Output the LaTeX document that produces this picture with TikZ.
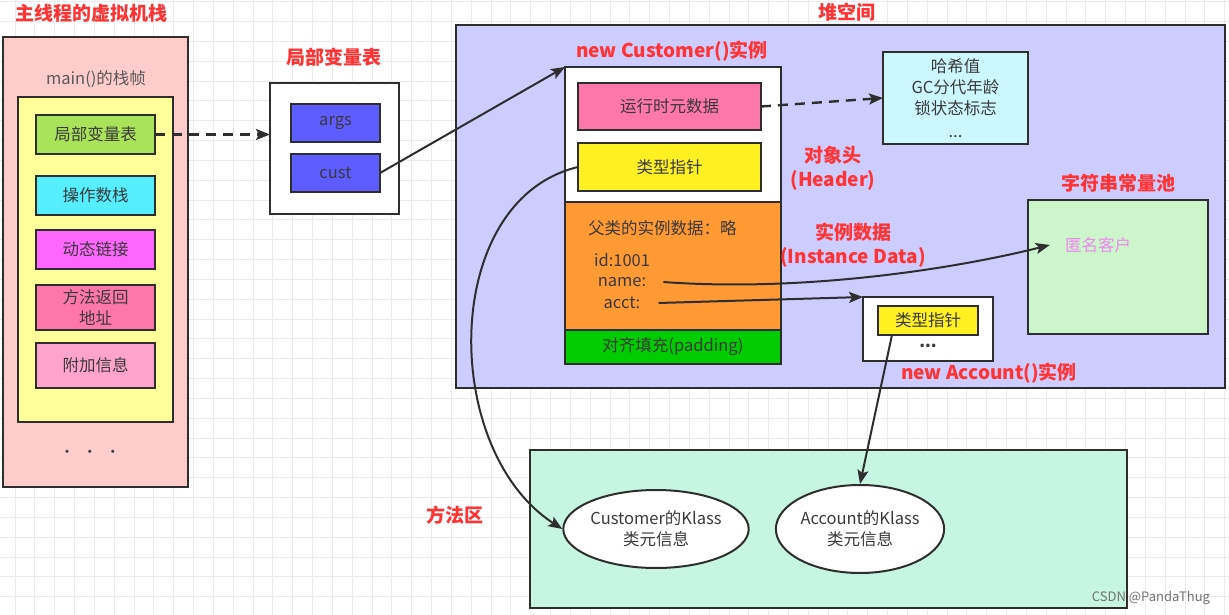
\documentclass[tikz,border=0pt]{standalone}
\usepackage{fontspec}
\setmainfont{Noto Sans CJK SC}
\usetikzlibrary{
    shapes.geometric,
    arrows.meta,
    positioning,
    calc
}
\definecolor{gridgray}{HTML}{EBEBEB}
\definecolor{linegray}{HTML}{2E2E2E}
\definecolor{textgray}{HTML}{3A3A3A}
\definecolor{titlered}{HTML}{FF3333}
\definecolor{stackpink}{HTML}{FFCCCC}
\definecolor{frameyellow}{HTML}{FFFF99}
\definecolor{lvtgreen}{HTML}{A8E35A}
\definecolor{opcyan}{HTML}{55EEFF}
\definecolor{dynmagenta}{HTML}{FF66FF}
\definecolor{retpink}{HTML}{FF77AA}
\definecolor{extrapink}{HTML}{FFA3CC}
\definecolor{slotblue}{HTML}{5C5CFF}
\definecolor{heapblue}{HTML}{CCCCFF}
\definecolor{ptryellow}{HTML}{FFF022}
\definecolor{dataorange}{HTML}{FF9933}
\definecolor{padgreen}{HTML}{00CC00}
\definecolor{hashcyan}{HTML}{CCF7FF}
\definecolor{poolgreen}{HTML}{CCF5CC}
\definecolor{anonviolet}{HTML}{EE88EE}
\definecolor{methodmint}{HTML}{C6F5E1}
\newcommand\bodysize{\fontsize{16.5}{21}\selectfont}
\newcommand\titlesize{\bfseries\fontsize{19}{24}\selectfont}
\tikzset{
    block/.style = {
        rectangle,
        draw=linegray,
        line width=2pt,
        inner sep=0pt,
        outer sep=0pt,
        font=\bodysize,
        text=textgray,
        align=center
    },
    klass/.style = {
        ellipse,
        draw=linegray,
        line width=2pt,
        fill=white,
        inner sep=0pt,
        font=\bodysize,
        text=textgray,
        align=center
    },
    label/.style = {
        font=\bodysize,
        text=textgray,
        inner sep=1pt
    },
    title/.style = {
        font=\titlesize,
        text=titlered,
        align=center
    },
    arrow/.style = {
        -{Stealth[length=14pt,width=11pt,inset=3pt]},
        line width=2pt,
        draw=linegray
    },
    dasharrow/.style = {
        arrow,
        line width=2.4pt,
        dash pattern=on 10pt off 7pt
    }
}

\begin{document}
\begin{tikzpicture}[x=1pt,y=-1pt]
\useasboundingbox (0,0) rectangle (1229,615);
\fill[white] (0,0) rectangle (1229,615);
% grid
\foreach \i in {0,...,62}
    \draw[gridgray,line width=0.8pt] ({-4.8+19.83*\i},0) -- ++(0,615);
\foreach \j in {0,...,30}
    \draw[gridgray,line width=0.8pt] (0,{1.7+19.83*\j}) -- ++(1229,0);

% virtual machine stack
\node (stacktitle) [title] at (92,13) {主线程的虚拟机栈};
\node (stack) [block,fill=stackpink,minimum width=185pt,minimum height=450pt] at (95.5,262) {};
\node (frametitle) [label,text=black!65] at (96,79) {main()的栈帧};
\node (frame) [block,fill=frameyellow,minimum width=155pt,minimum height=325pt] at (95.5,259.5) {};
\node (lvt) [block,fill=lvtgreen,minimum width=119pt,minimum height=39pt] at (95.5,134.5) {局部变量表};
\node (opstack) [block,fill=opcyan,minimum width=119pt,minimum height=39pt] at (95.5,195.5) {操作数栈};
\node (dynlink) [block,fill=dynmagenta,minimum width=119pt,minimum height=39pt] at (95.5,249.5) {动态链接};
\node (retaddr) [block,fill=retpink,minimum width=119pt,minimum height=45pt] at (95.5,307.5) {方法返回\\地址};
\node (extra) [block,fill=extrapink,minimum width=119pt,minimum height=45pt] at (95.5,365.5) {附加信息};
\node (stackdots) [label,font=\fontsize{15}{15}\selectfont] at (90,454) {•\hspace{8pt}•\hspace{8pt}•};

% local variable table
\node (lvttitle) [title] at (334,57) {局部变量表};
\node (lvtbox) [block,fill=white,minimum width=129pt,minimum height=131pt] at (334.5,148.5) {};
\node (args) [block,fill=slotblue,minimum width=89pt,minimum height=38pt] at (335.5,123) {args};
\node (cust) [block,fill=slotblue,minimum width=89pt,minimum height=38pt] at (335.5,173) {cust};

% heap
\node (heaptitle) [title] at (847,12) {堆空间};
\node (heap) [block,fill=heapblue,minimum width=769pt,minimum height=363pt] at (840.5,206.5) {};
\node (custtitle) [title] at (672,51) {new Customer()实例};
\node (header) [block,fill=white,minimum width=216pt,minimum height=135pt] at (673,134.5) {};
\node (idata) [block,fill=dataorange,minimum width=216pt,minimum height=128pt,below=0pt of header] {};
\node (padding) [block,fill=padgreen,minimum width=216pt,minimum height=34pt,below=0pt of idata] {对齐填充(padding)};
\node (meta) [block,fill=retpink,minimum width=183pt,minimum height=47pt] at (669.5,106.5) {运行时元数据};
\node (ctype) [block,fill=ptryellow,minimum width=183pt,minimum height=48pt] at (669.5,167) {类型指针};
\node (supertxt) [label,anchor=west] at (587,228) {父类的实例数据：略};
\node (idtxt) [label] at (622,260) {id:1001};
\node (nametxt) [label] at (622,282) {name:};
\node (accttxt) [label] at (622,303) {acct:};
\node (headertitle) [title] at (833,168) {对象头\\(Header)};
\node (datatitle) [title] at (853,245) {实例数据\\(Instance Data)};
\node (hash) [block,fill=hashcyan,minimum width=145pt,minimum height=92pt] at (955.5,98) {哈希值\\GC分代年龄\\锁状态标志\\[2pt]...};
\node (pooltitle) [title] at (1118,183) {字符串常量池};
\node (pool) [block,fill=poolgreen,minimum width=180pt,minimum height=134pt] at (1118,267) {};
\node (anon) [label,text=anonviolet] at (1098,245) {匿名客户};
\node (acctobj) [block,fill=white,minimum width=130pt,minimum height=64pt] at (928,329) {};
\node (atype) [block,fill=ptryellow,minimum width=100pt,minimum height=29pt] at (928,320.5) {类型指针};
\node (adots) [label,font=\bfseries\bodysize] at (928,346) {...};
\node (accttitle) [title] at (989,373) {new Account()实例};

% method area
\node (methodtitle) [title] at (455,515) {方法区};
\node (method) [block,fill=methodmint,minimum width=597pt,minimum height=158pt] at (828.5,529) {};
\node (custk) [klass,minimum width=178pt,minimum height=78pt] at (656,529) {Customer的Klass\\类元信息};
\node (acctk) [klass,minimum width=166pt,minimum height=88pt] at (860,529) {Account的Klass\\类元信息};
\node (mark) [font=\fontsize{13}{13}\selectfont,text=black!55] at (1151,598) {CSDN @PandaThug};

\draw[dasharrow] (lvt.east) -- (lvt.east -| lvtbox.west);
\draw[arrow] (cust.east) -- (header.north west);
\draw[dasharrow] (meta.east) -- (hash.west);
\draw[arrow] ($(nametxt.east)+(16,0)$) .. controls (800,292) and (950,270) .. ($(anon.west)+(-14,0)$);
\draw[arrow] ($(accttxt.east)+(17,0)$) -- (acctobj.north west);
\draw[arrow] (ctype.west) .. controls (440,200) and (440,450) .. (custk.west);
\draw[arrow] ($(atype.south)+(-36,0)$) -- (acctk.north);
\end{tikzpicture}
\end{document}
